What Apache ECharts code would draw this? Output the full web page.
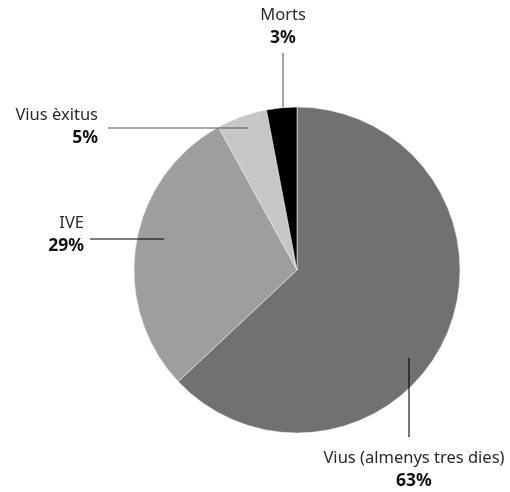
<!DOCTYPE html>
<html>
<head>
<meta charset="utf-8">
<style>
  html, body { margin: 0; padding: 0; background: #fff; }
  #chart { width: 510px; height: 492px; }
</style>
<script src="https://cdn.jsdelivr.net/npm/echarts@6/dist/echarts.min.js"></script>
</head>
<body>
<div id="chart"></div>
<script>
// Outcome categories and their shares (%)
const categories = ['Vius (almenys tres dies)', 'IVE', 'Vius èxitus', 'Morts'];
const shares = [63, 29, 5, 3];
const sliceColors = ['#707173', '#9d9ea0', '#c5c6c8', '#000000'];
const leaderColors = ['#000000', '#000000', '#555555', '#555555'];

const CX = 297, CY = 270, R = 163;

// Label anchor and leader line for each slice, relative to the pie centre
function placeLabel(i) {
  switch (i) {
    case 0: // bottom right, vertical leader down
      return {
        x: CX + 117, y: CY + 177, align: 'center', verticalAlign: 'top',
        pts: [[CX + 112, CY + 88], [CX + 112, CY + 167]]
      };
    case 1: // left, horizontal leader
      return {
        x: CX - 213, y: CY - 35, align: 'right', verticalAlign: 'middle',
        pts: [[CX - 133, CY - 31], [CX - 207, CY - 31]]
      };
    case 2: // upper left, horizontal leader
      return {
        x: CX - 199, y: CY - 143, align: 'right', verticalAlign: 'middle',
        pts: [[CX - 49, CY - 142], [CX - 189, CY - 142]]
      };
    default: // top, vertical leader up
      return {
        x: CX - 14, y: CY - 220, align: 'center', verticalAlign: 'bottom',
        pts: [[CX - 14, CY - R], [CX - 14, CY - 217]]
      };
  }
}

// Leader lines are drawn above the slices so they reach into them
const leaders = categories.map((_, i) => ({
  type: 'polyline',
  z: 100,
  silent: true,
  shape: { points: placeLabel(i).pts },
  style: { stroke: leaderColors[i], lineWidth: 1.1, fill: null }
}));

const chart = echarts.init(document.getElementById('chart'), null, { renderer: 'canvas' });

chart.setOption({
  animation: false,
  backgroundColor: '#ffffff',
  textStyle: { fontFamily: 'Noto Sans' },
  graphic: leaders,
  series: [{
    type: 'pie',
    center: [CX, CY],
    radius: R,
    startAngle: 90,
    clockwise: true,
    avoidLabelOverlap: false,
    itemStyle: { borderColor: '#e8e8e8', borderWidth: 0.6 },
    label: {
      show: true,
      position: 'outside',
      formatter: p => '{n|' + p.name + '}\n{v|' + p.value + '%}',
      rich: {
        n: { fontSize: 16.5, color: '#2a2a2a', lineHeight: 23, fontFamily: 'Noto Sans' },
        v: { fontSize: 17.5, fontWeight: 'bold', color: '#111', lineHeight: 23, fontFamily: 'Noto Sans' }
      }
    },
    labelLine: { show: false },
    labelLayout: function (params) {
      const p = placeLabel(params.dataIndex);
      return { x: p.x, y: p.y, align: p.align, verticalAlign: p.verticalAlign };
    },
    data: categories.map((name, i) => ({
      name: name,
      value: shares[i],
      itemStyle: { color: sliceColors[i] },
      label: { align: placeLabel(i).align }
    }))
  }]
});
</script>
</body>
</html>
